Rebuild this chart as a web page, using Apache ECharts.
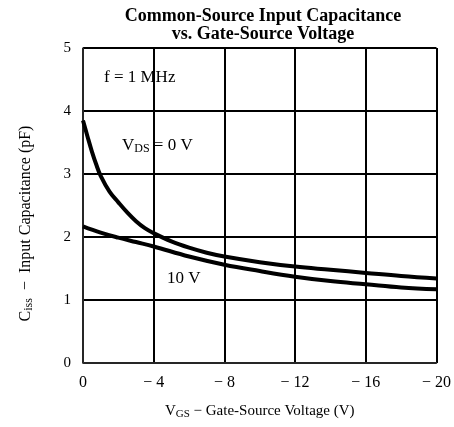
<!DOCTYPE html>
<html>
<head>
<meta charset="utf-8">
<script src="https://cdn.jsdelivr.net/npm/echarts@6/dist/echarts.min.js"></script>
<style>
html, body { margin: 0; padding: 0; background: #fff; }
#chart { width: 454px; height: 427px; }
</style>
</head>
<body>
<div id="chart"></div>
<script>
// VGS (V) sample points
const vgs0 = [0, -0.25, -0.5, -0.75, -1, -1.5, -2, -2.5, -3, -3.5, -4, -5, -6, -7, -8, -10, -12, -14, -16, -18, -20];
const ciss0 = [3.85, 3.6, 3.36, 3.15, 2.97, 2.72, 2.55, 2.39, 2.25, 2.14, 2.06, 1.93, 1.83, 1.75, 1.69, 1.6, 1.53, 1.48, 1.43, 1.38, 1.34];
const vgs10 = [0, -1, -2, -3, -4, -6, -8, -10, -12, -14, -16, -18, -20];
const ciss10 = [2.17, 2.07, 1.99, 1.92, 1.85, 1.69, 1.56, 1.46, 1.37, 1.3, 1.25, 1.2, 1.17];

const serif = '"Liberation Serif", "DejaVu Serif", serif';

const chart = echarts.init(document.getElementById('chart'));

function pairs(xs, ys) {
    return xs.map((x, i) => [x, ys[i]]);
}

chart.setOption({
    animation: false,
    title: {
        text: 'Common-Source Input Capacitance\nvs. Gate-Source Voltage',
        left: 258,
        textAlign: 'center',
        top: 2,
        textStyle: {
            fontFamily: serif,
            fontWeight: 'bold',
            fontSize: 18,
            lineHeight: 18,
            color: '#000'
        }
    },
    grid: { left: 83, right: 17, top: 48, bottom: 64 },
    xAxis: {
        type: 'value',
        min: -20,
        max: 0,
        interval: 4,
        inverse: true,
        name: '{v|V}{s|GS}{v| − Gate-Source Voltage (V)}',
        nameLocation: 'middle',
        nameGap: 40,
        nameTextStyle: {
            rich: {
                v: { fontFamily: serif, fontSize: 15, color: '#000' },
                s: { fontFamily: serif, fontSize: 11, color: '#000', verticalAlign: 'bottom', padding: [6, 0, 0, 0] }
            }
        },
        axisLine: { lineStyle: { color: '#333', width: 1.5 } },
        axisTick: { show: false },
        splitLine: { show: true, lineStyle: { color: '#000', width: 2 } },
        axisLabel: {
            fontFamily: serif,
            fontSize: 16,
            color: '#000',
            margin: 12,
            formatter: v => (v === 0 ? '0' : '− ' + Math.abs(v))
        }
    },
    yAxis: {
        type: 'value',
        min: 0,
        max: 5,
        interval: 1,
        name: '{v|C}{s|iss}{v|  −  Input Capacitance (pF)}',
        nameLocation: 'middle',
        nameGap: 48,
        nameTextStyle: {
            padding: [0, 36, 0, 0],
            rich: {
                v: { fontFamily: serif, fontSize: 16, color: '#000' },
                s: { fontFamily: serif, fontSize: 12, color: '#000', verticalAlign: 'bottom', padding: [6, 0, 0, 0] }
            }
        },
        axisLine: { show: true, lineStyle: { color: '#333', width: 1.5 } },
        axisTick: { show: false },
        splitLine: { show: true, lineStyle: { color: '#000', width: 2 } },
        axisLabel: {
            fontFamily: serif,
            fontSize: 15,
            color: '#000',
            margin: 12
        }
    },
    graphic: [
        {
            type: 'text', left: 104, top: 69,
            style: { text: 'f = 1 MHz', font: '17px ' + serif, fill: '#000' }
        },
        {
            type: 'text', left: 122, top: 137,
            style: {
                text: '{v|V}{s|DS}{v| = 0 V}',
                rich: {
                    v: { font: '17px ' + serif, fill: '#000' },
                    s: { font: '12px ' + serif, fill: '#000', padding: [7, 0, 0, 0] }
                }
            }
        },
        {
            type: 'text', left: 167, top: 270,
            style: { text: '10 V', font: '17px ' + serif, fill: '#000' }
        }
    ],
    series: [
        {
            name: 'VDS = 0 V',
            type: 'line',
            data: pairs(vgs0, ciss0),
            smooth: 0.4,
            symbol: 'none',
            lineStyle: { color: '#000', width: 4 }
        },
        {
            name: 'VDS = 10 V',
            type: 'line',
            data: pairs(vgs10, ciss10),
            smooth: 0.4,
            symbol: 'none',
            lineStyle: { color: '#000', width: 4 }
        }
    ]
});
</script>
</body>
</html>
